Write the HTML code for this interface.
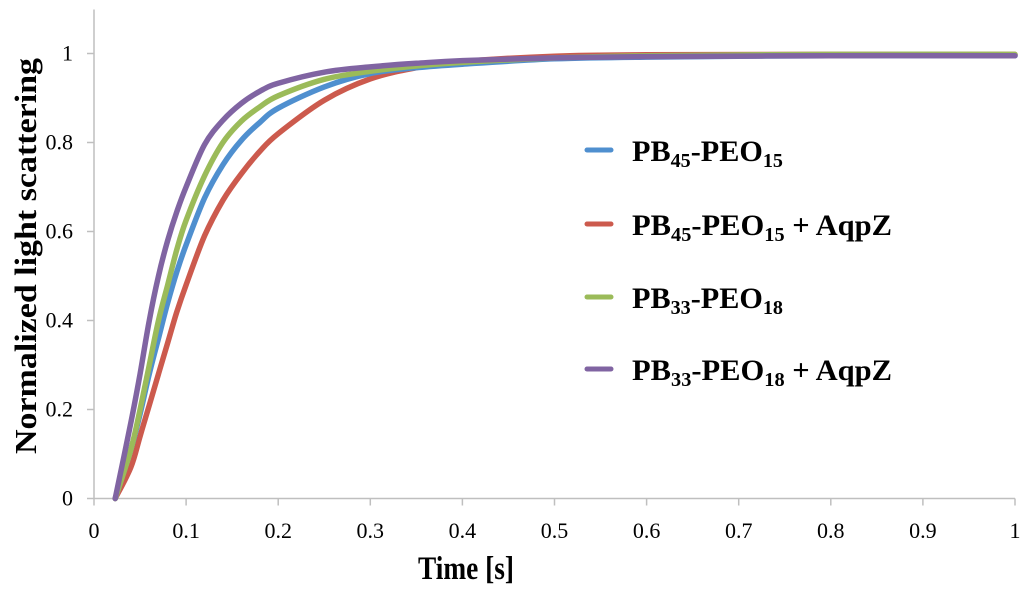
<!DOCTYPE html>
<html><head><meta charset="utf-8"><style>
html,body{margin:0;padding:0;background:#fff;}
svg{display:block;font-family:"Liberation Serif",serif;}
</style></head><body>
<svg id="chart" width="1024" height="594" viewBox="0 0 1024 594">
<g id="axes"></g>
<g id="series"></g>
<text x="0" y="0" transform="translate(36,256) rotate(-90)" text-anchor="middle" font-weight="bold" font-size="31" textLength="396" lengthAdjust="spacingAndGlyphs">Normalized light scattering</text>
<text x="466" y="579" text-anchor="middle" font-weight="bold" font-size="33" textLength="96" lengthAdjust="spacingAndGlyphs">Time [s]</text>
<g id="legend" font-weight="bold" font-size="30">
<g>
<line x1="587" y1="150" x2="611" y2="150" stroke="#4f8fcf" stroke-width="5" stroke-linecap="round"/>
<text x="632" y="161" textLength="151" lengthAdjust="spacingAndGlyphs">PB<tspan font-size="20" dy="6">45</tspan><tspan dy="-6">-PEO</tspan><tspan font-size="20" dy="6">15</tspan></text></g>
<g>
<line x1="587" y1="224" x2="611" y2="224" stroke="#cc5a4d" stroke-width="5" stroke-linecap="round"/>
<text x="632" y="235" textLength="260" lengthAdjust="spacingAndGlyphs">PB<tspan font-size="20" dy="6">45</tspan><tspan dy="-6">-PEO</tspan><tspan font-size="20" dy="6">15</tspan><tspan dy="-6"> + AqpZ</tspan></text></g>
<g>
<line x1="587" y1="297" x2="611" y2="297" stroke="#9bbb59" stroke-width="5" stroke-linecap="round"/>
<text x="632" y="308" textLength="151" lengthAdjust="spacingAndGlyphs">PB<tspan font-size="20" dy="6">33</tspan><tspan dy="-6">-PEO</tspan><tspan font-size="20" dy="6">18</tspan></text></g>
<g>
<line x1="587" y1="369" x2="611" y2="369" stroke="#8064a2" stroke-width="5" stroke-linecap="round"/>
<text x="632" y="380" textLength="260" lengthAdjust="spacingAndGlyphs">PB<tspan font-size="20" dy="6">33</tspan><tspan dy="-6">-PEO</tspan><tspan font-size="20" dy="6">18</tspan><tspan dy="-6"> + AqpZ</tspan></text></g>
</g>
</svg>
<script>
const times = [0.023,0.04,0.05,0.06,0.07,0.08,0.09,0.1,0.12,0.14,0.16,0.18,0.2,0.25,0.3,0.35,0.4,0.5,0.6,0.8,1.0];
const blueVals = [0,0.11,0.19,0.28,0.36,0.44,0.51,0.57,0.675,0.75,0.805,0.845,0.877,0.925,0.955,0.968,0.976,0.988,0.992,0.995,0.995];
const redVals = [0,0.07,0.14,0.21,0.28,0.35,0.42,0.48,0.59,0.67,0.73,0.78,0.82,0.895,0.943,0.968,0.982,0.994,0.997,0.998,0.998];
const greenVals = [0,0.11,0.2,0.3,0.4,0.48,0.56,0.625,0.725,0.8,0.848,0.88,0.905,0.942,0.96,0.972,0.98,0.99,0.995,0.998,0.998];
const purpleVals = [0,0.17,0.28,0.4,0.5,0.58,0.645,0.7,0.795,0.85,0.888,0.915,0.933,0.958,0.97,0.978,0.984,0.99,0.993,0.995,0.995];
const xTicks = [0,0.1,0.2,0.3,0.4,0.5,0.6,0.7,0.8,0.9,1];
const xTickLabels = ["0","0.1","0.2","0.3","0.4","0.5","0.6","0.7","0.8","0.9","1"];
const yTicks = [0,0.2,0.4,0.6,0.8,1];
const yTickLabels = ["0","0.2","0.4","0.6","0.8","1"];

const NS = "http://www.w3.org/2000/svg";
const X0 = 94, X1 = 1015, Y0 = 498.5, Y1 = 53.5;
function sx(v){ return X0 + v*(X1-X0); }
function sy(v){ return Y0 - v*(Y0-Y1); }
function mk(tag, attrs, parent){
  const e = document.createElementNS(NS, tag);
  for (const k in attrs) e.setAttribute(k, attrs[k]);
  parent.appendChild(e); return e;
}
const axes = document.getElementById('axes');
const ax = mk('line',{x1:X0,y1:Y0,x2:X1,y2:Y0,stroke:'#bfbfbf','stroke-width':1.5},axes);


const ay = mk('line',{x1:X0,y1:Y0,x2:X0,y2:Y1-44,stroke:'#bfbfbf','stroke-width':1.5},axes);


xTicks.forEach((v,i)=>{
  const t = mk('line',{x1:sx(v),y1:Y0,x2:sx(v),y2:Y0+7,stroke:'#bfbfbf','stroke-width':1.5},axes);
  
  
  const l = mk('text',{x:sx(v),y:538,'text-anchor':'middle','font-size':22},axes);
  l.textContent = xTickLabels[i];
  
  
});
yTicks.forEach((v,i)=>{
  const t = mk('line',{x1:X0-7,y1:sy(v),x2:X0,y2:sy(v),stroke:'#bfbfbf','stroke-width':1.5},axes);
  
  
  const l = mk('text',{x:73,y:sy(v)+7,'text-anchor':'end','font-size':22},axes);
  l.textContent = yTickLabels[i];
  
  
});
const series = document.getElementById('series');
function draw(vals, color, name){
  const pts = vals.map((v,i)=>[sx(times[i]), sy(v)]);
  let d = 'M'+pts[0][0].toFixed(1)+','+pts[0][1].toFixed(1);
  for (let i=0;i<pts.length-1;i++){
    const p0 = pts[Math.max(0,i-1)], p1 = pts[i], p2 = pts[i+1], p3 = pts[Math.min(pts.length-1,i+2)];
    const c1x = p1[0]+(p2[0]-p0[0])/6, c1y = p1[1]+(p2[1]-p0[1])/6;
    const c2x = p2[0]-(p3[0]-p1[0])/6, c2y = p2[1]-(p3[1]-p1[1])/6;
    d += ' C'+c1x.toFixed(1)+','+c1y.toFixed(1)+' '+c2x.toFixed(1)+','+c2y.toFixed(1)+' '+p2[0].toFixed(1)+','+p2[1].toFixed(1);
  }
  const p = mk('path',{d:d,fill:'none',stroke:color,'stroke-width':5.5,'stroke-linejoin':'round','stroke-linecap':'round'},series);
  
  
}
draw(redVals,'#cc5a4d','series-pb45-peo15-aqpz');
draw(blueVals,'#4f8fcf','series-pb45-peo15');
draw(greenVals,'#9bbb59','series-pb33-peo18');
draw(purpleVals,'#8064a2','series-pb33-peo18-aqpz');
</script>
</body></html>
